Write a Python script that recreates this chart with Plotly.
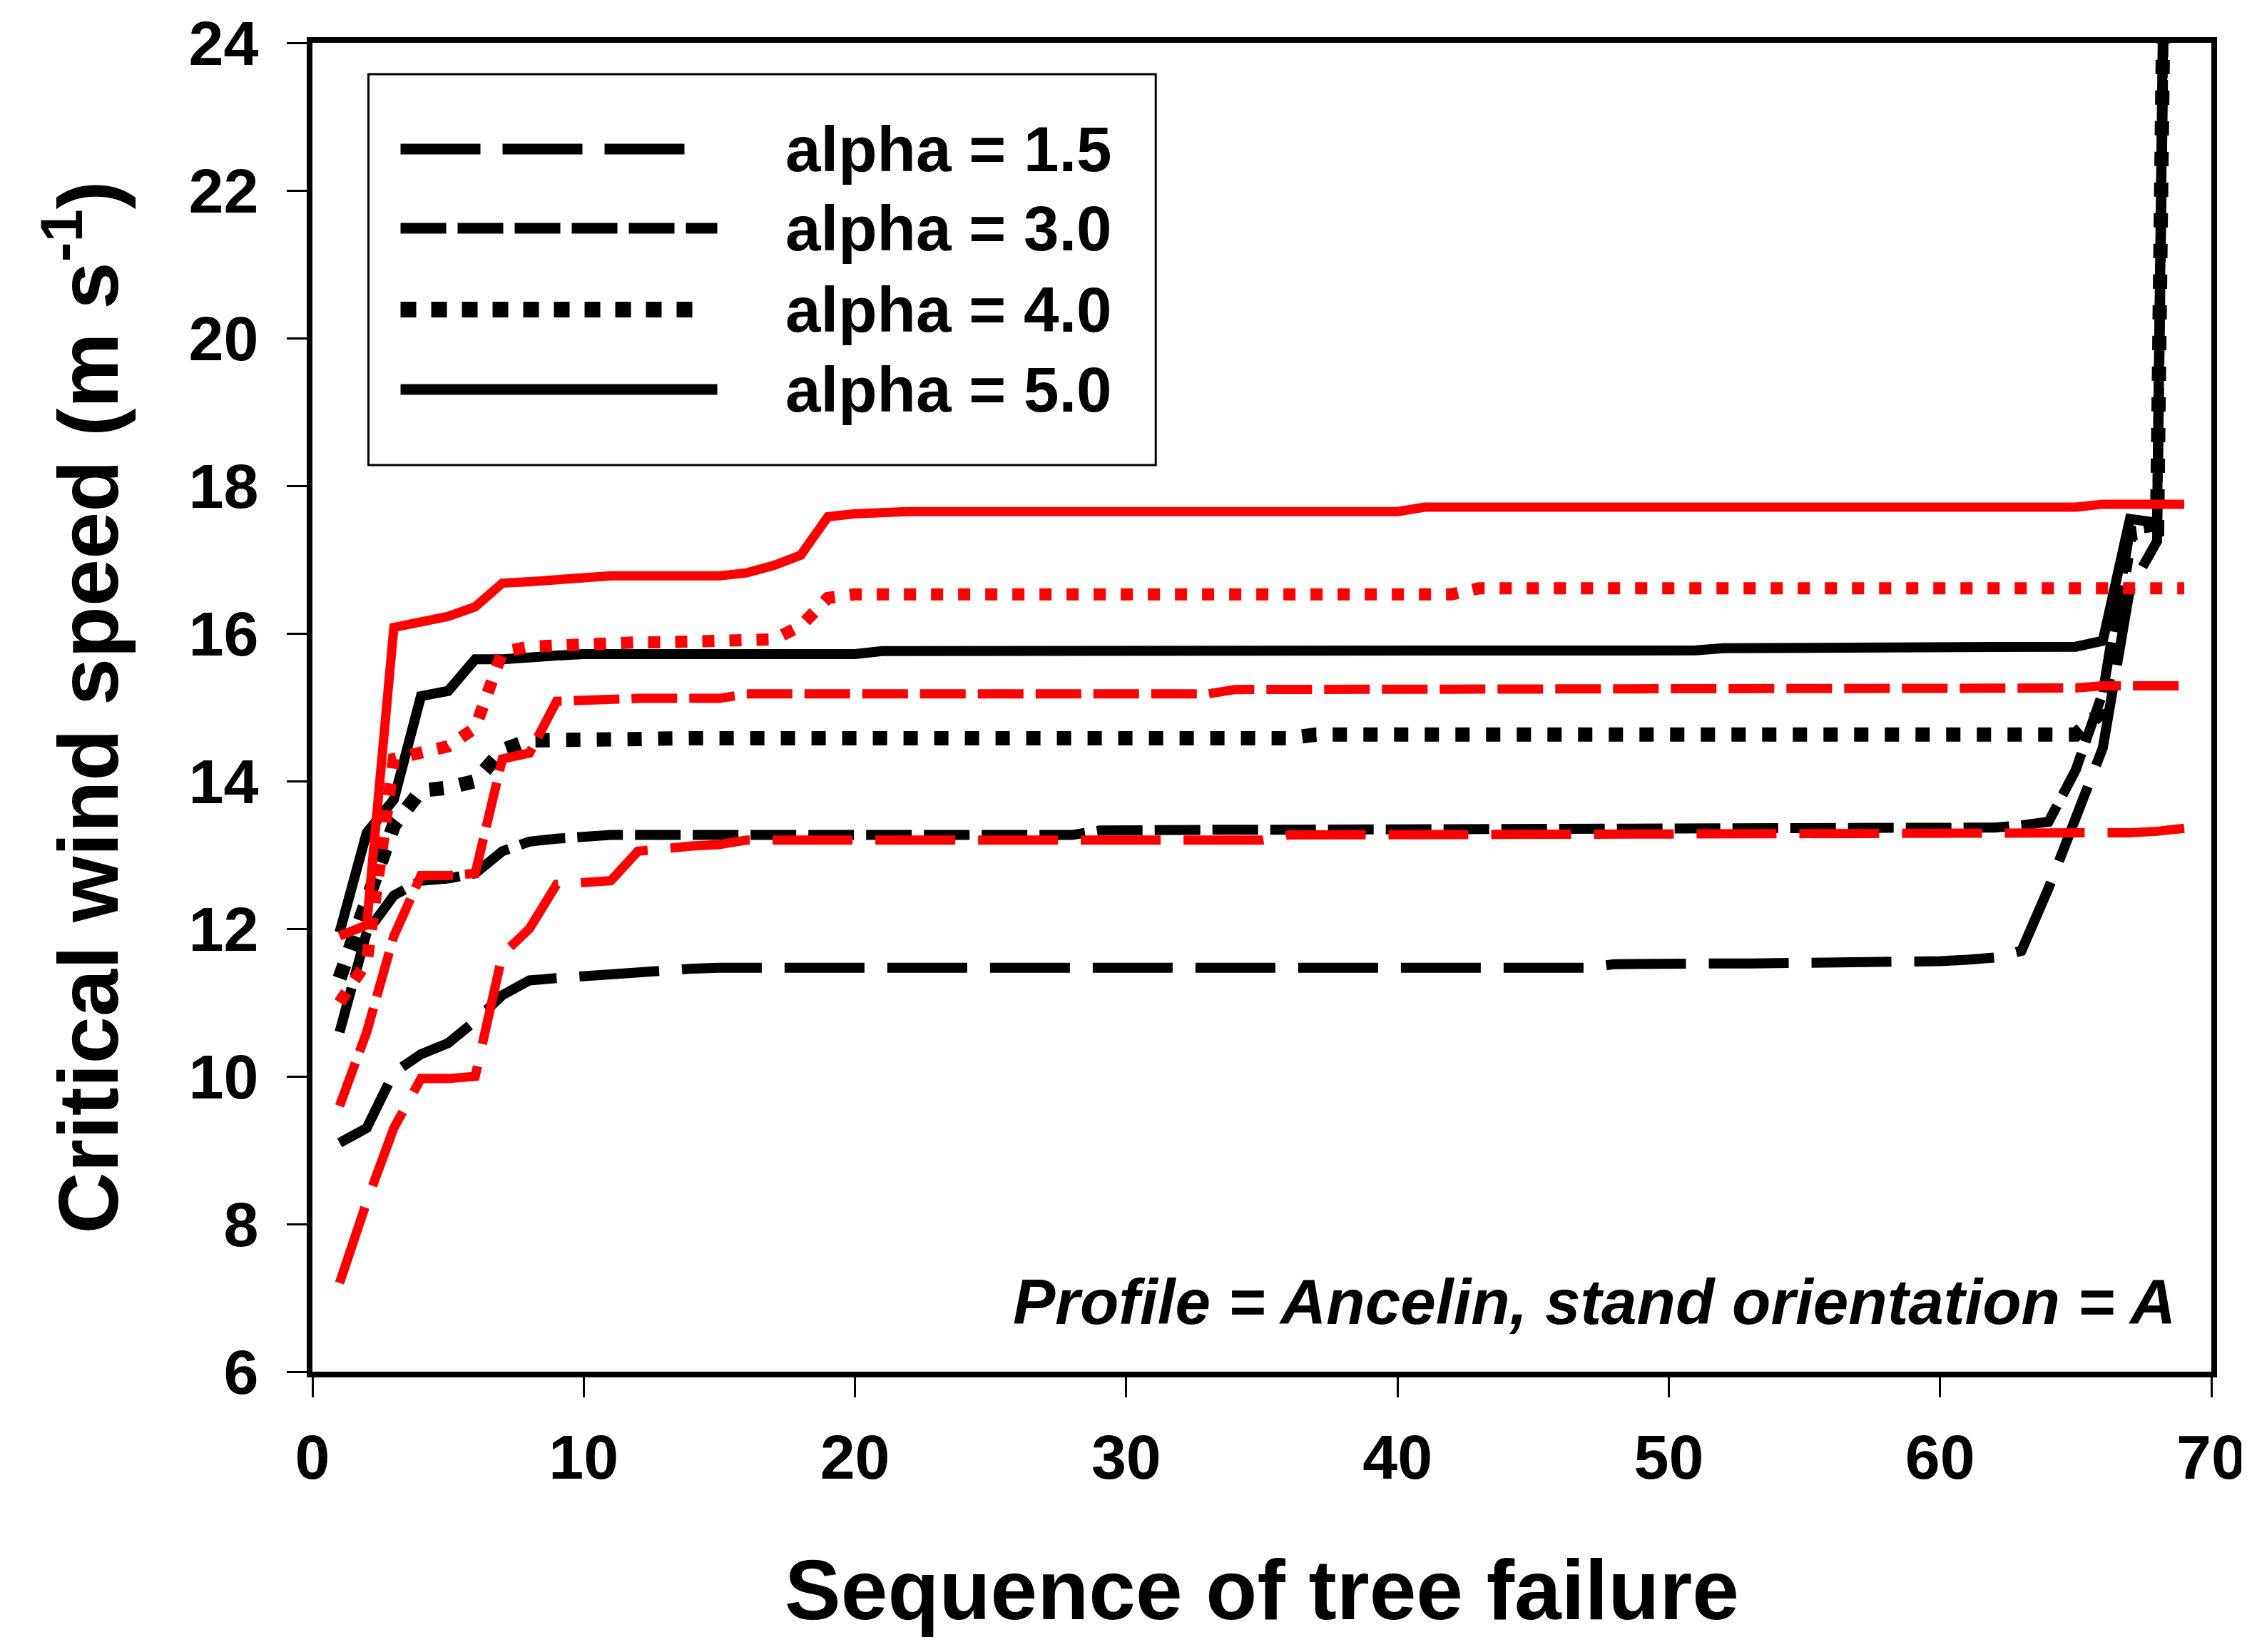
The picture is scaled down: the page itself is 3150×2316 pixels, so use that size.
import plotly.graph_objects as go

# sequence of tree failure (x) and critical wind speeds (y)
seq = [1, 2, 3, 4, 5, 6, 7, 8, 9, 10,
       11, 12, 13, 14, 15, 16, 17, 18, 19, 20,
       21, 22, 23, 24, 25, 26, 27, 28, 29, 30,
       31, 32, 33, 34, 35, 36, 37, 38, 39, 40,
       41, 42, 43, 44, 45, 46, 47, 48, 49, 50,
       51, 52, 53, 54, 55, 56, 57, 58, 59, 60,
       61, 62, 63, 64, 65, 66, 67, 68, 69]

# black curves
black_a15 = [9.10, 9.30, 10.05, 10.30, 10.45, 10.75, 11.10, 11.30, 11.33, 11.36,
             11.40, 11.42, 11.45, 11.46, 11.47, 11.47, 11.47, 11.47, 11.47, 11.47,
             11.47, 11.47, 11.47, 11.47, 11.47, 11.47, 11.47, 11.47, 11.47, 11.47,
             11.47, 11.47, 11.47, 11.47, 11.47, 11.47, 11.47, 11.47, 11.47, 11.47,
             11.47, 11.47, 11.47, 11.47, 11.47, 11.47, 11.47, 11.52, 11.53, 11.53,
             11.53, 11.53, 11.53, 11.53, 11.53, 11.53, 11.53, 11.53, 11.53, 11.56,
             11.58, 11.61, 11.70, 12.55, 13.50, 14.45, 16.60, 17.25, 46.0]
black_a30 = [10.60, 11.95, 12.45, 12.65, 12.68, 12.75, 13.05, 13.18, 13.22, 13.25,
             13.27, 13.27, 13.27, 13.27, 13.27, 13.27, 13.27, 13.27, 13.27, 13.27,
             13.27, 13.27, 13.27, 13.27, 13.27, 13.27, 13.27, 13.27, 13.33, 13.34,
             13.34, 13.34, 13.34, 13.34, 13.34, 13.34, 13.34, 13.34, 13.34, 13.34,
             13.34, 13.34, 13.34, 13.34, 13.34, 13.34, 13.34, 13.34, 13.34, 13.34,
             13.34, 13.34, 13.34, 13.34, 13.34, 13.37, 13.37, 13.37, 13.37, 13.37,
             13.37, 13.37, 13.40, 13.45, 14.15, 15.20, 17.40, 17.45, 47.0]
black_a40 = [11.33, 12.40, 13.40, 13.87, 13.91, 14.00, 14.42, 14.55, 14.56, 14.58,
             14.58, 14.58, 14.58, 14.58, 14.58, 14.58, 14.58, 14.58, 14.58, 14.58,
             14.58, 14.58, 14.58, 14.58, 14.58, 14.58, 14.58, 14.58, 14.58, 14.58,
             14.58, 14.58, 14.58, 14.58, 14.58, 14.58, 14.63, 14.63, 14.63, 14.63,
             14.63, 14.63, 14.63, 14.63, 14.63, 14.63, 14.63, 14.63, 14.63, 14.63,
             14.63, 14.63, 14.63, 14.63, 14.63, 14.63, 14.63, 14.63, 14.63, 14.63,
             14.63, 14.63, 14.63, 14.63, 14.63, 14.95, 17.35, 17.40, 48.0]
black_a50 = [11.95, 13.30, 13.75, 15.15, 15.22, 15.65, 15.65, 15.66, 15.70, 15.72,
             15.72, 15.72, 15.72, 15.72, 15.72, 15.72, 15.72, 15.72, 15.72, 15.72,
             15.76, 15.76, 15.76, 15.76, 15.76, 15.76, 15.76, 15.76, 15.76, 15.76,
             15.76, 15.76, 15.76, 15.76, 15.76, 15.76, 15.76, 15.76, 15.76, 15.76,
             15.76, 15.76, 15.76, 15.76, 15.76, 15.76, 15.76, 15.76, 15.76, 15.76,
             15.77, 15.80, 15.80, 15.80, 15.80, 15.80, 15.80, 15.80, 15.80, 15.80,
             15.80, 15.80, 15.80, 15.80, 15.82, 15.90, 17.55, 17.50, 49.0]

# red curves
red_a15 = [7.20, 8.30, 9.30, 9.97, 9.97, 10.00, 11.65, 12.00, 12.60, 12.62,
           12.65, 13.05, 13.10, 13.12, 13.14, 13.20, 13.20, 13.20, 13.20, 13.20,
           13.20, 13.20, 13.20, 13.20, 13.20, 13.20, 13.20, 13.20, 13.20, 13.20,
           13.20, 13.20, 13.20, 13.20, 13.20, 13.27, 13.27, 13.27, 13.27, 13.27,
           13.27, 13.27, 13.27, 13.27, 13.27, 13.27, 13.27, 13.27, 13.27, 13.27,
           13.27, 13.27, 13.27, 13.27, 13.27, 13.27, 13.27, 13.27, 13.27, 13.27,
           13.27, 13.27, 13.27, 13.27, 13.27, 13.27, 13.30, 13.32, 13.36]
red_a30 = [9.60, 10.60, 11.90, 12.72, 12.72, 12.75, 14.30, 14.38, 15.08, 15.10,
           15.12, 15.12, 15.12, 15.12, 15.12, 15.18, 15.18, 15.18, 15.18, 15.18,
           15.18, 15.18, 15.18, 15.18, 15.18, 15.18, 15.18, 15.18, 15.18, 15.18,
           15.18, 15.18, 15.18, 15.24, 15.24, 15.24, 15.24, 15.24, 15.24, 15.24,
           15.24, 15.24, 15.24, 15.24, 15.24, 15.24, 15.24, 15.24, 15.24, 15.24,
           15.24, 15.24, 15.24, 15.24, 15.24, 15.24, 15.24, 15.24, 15.24, 15.24,
           15.24, 15.24, 15.24, 15.24, 15.26, 15.29, 15.29, 15.29, 15.29]
red_a40 = [11.00, 11.55, 14.30, 14.40, 14.47, 14.72, 15.75, 15.82, 15.84, 15.88,
           15.88, 15.88, 15.88, 15.88, 15.92, 15.92, 15.92, 16.10, 16.48, 16.53,
           16.53, 16.53, 16.53, 16.53, 16.53, 16.53, 16.53, 16.53, 16.53, 16.53,
           16.53, 16.53, 16.53, 16.53, 16.53, 16.53, 16.53, 16.53, 16.53, 16.53,
           16.53, 16.53, 16.61, 16.61, 16.61, 16.61, 16.61, 16.61, 16.61, 16.61,
           16.61, 16.61, 16.61, 16.61, 16.61, 16.61, 16.61, 16.61, 16.61, 16.61,
           16.61, 16.61, 16.61, 16.61, 16.61, 16.61, 16.61, 16.61, 16.61]
red_a50 = [11.90, 12.05, 16.08, 16.14, 16.23, 16.36, 16.68, 16.70, 16.73, 16.76,
           16.78, 16.78, 16.78, 16.78, 16.78, 16.82, 16.92, 17.06, 17.58, 17.62,
           17.65, 17.65, 17.65, 17.65, 17.65, 17.65, 17.65, 17.65, 17.65, 17.65,
           17.65, 17.65, 17.65, 17.65, 17.65, 17.65, 17.65, 17.65, 17.65, 17.65,
           17.71, 17.71, 17.71, 17.71, 17.71, 17.71, 17.71, 17.71, 17.71, 17.71,
           17.71, 17.71, 17.71, 17.71, 17.71, 17.71, 17.71, 17.71, 17.71, 17.71,
           17.71, 17.71, 17.71, 17.71, 17.71, 17.75, 17.75, 17.75, 17.75]

legend_labels = ['alpha = 1.5', 'alpha = 3.0', 'alpha = 4.0', 'alpha = 5.0']
x_ticks = [0, 10, 20, 30, 40, 50, 60, 70]
y_ticks = [6, 8, 10, 12, 14, 16, 18, 20, 22, 24]

FONT = 'Liberation Sans, Arial, sans-serif'
LONG = '112px,32px'
MED = '64px,17px'

# (values, colour, width, dash) - black first so red sits on top
series = [
    (black_a15, 'black', 14, LONG),
    (black_a30, 'black', 14, MED),
    (black_a40, 'black', 20, '20px,23px'),
    (black_a50, 'black', 14, 'solid'),
    (red_a15, 'red', 13, LONG),
    (red_a30, 'red', 13, MED),
    (red_a40, 'red', 17, '17px,21px'),
    (red_a50, 'red', 13, 'solid'),
]

fig = go.Figure()
for vals, col, w, dash in series:
    fig.add_trace(go.Scatter(
        x=seq, y=vals, mode='lines',
        line=dict(color=col, width=w, dash=dash),
        showlegend=False, hoverinfo='skip'
    ))

# hand-drawn legend box (sample lines are much longer than plotly's legend allows)
shapes = [dict(type='rect', xref='paper', yref='paper',
               x0=0.0295, x1=0.4441, y0=0.6822, y1=0.9764,
               line=dict(color='black', width=3), fillcolor='white', layer='above')]
legend_rows = [0.920, 0.8604, 0.7992, 0.7391]
legend_styles = [(0.1959, 15, '112px,31px'), (0.2132, 15, '64px,16px'),
                 (0.2008, 22, '22px,21px'), (0.2132, 15, 'solid')]
annotations = []
for row_y, (x_end, w, dash), label in zip(legend_rows, legend_styles, legend_labels):
    shapes.append(dict(type='line', xref='paper', yref='paper',
                       x0=0.0464, x1=x_end, y0=row_y, y1=row_y,
                       line=dict(color='black', width=w, dash=dash), layer='above'))
    annotations.append(dict(xref='paper', yref='paper', x=0.2484, y=row_y,
                            xanchor='left', yanchor='middle', showarrow=False,
                            text='<b>' + label + '</b>',
                            font=dict(family=FONT, size=89, color='black')))

annotations.append(dict(xref='paper', yref='y', x=0.982, y=6.95,
                        xanchor='right', yanchor='middle', showarrow=False,
                        text='<b><i>Profile = Ancelin, stand orientation = A</i></b>',
                        font=dict(family=FONT, size=89, color='black')))

fig.update_layout(
    width=3150, height=2316,
    margin=dict(l=430, r=58, t=52, b=401),
    paper_bgcolor='white', plot_bgcolor='white',
    showlegend=False,
    shapes=shapes, annotations=annotations,
    font=dict(family=FONT, color='black'),
)

axis_common = dict(
    showgrid=False, zeroline=False,
    showline=True, linewidth=8, linecolor='black', mirror=True,
    ticks='outside', ticklen=28, tickwidth=3, tickcolor='black',
    tickfont=dict(family=FONT, size=88, color='black', weight='bold'),
    automargin=False,
)

fig.update_xaxes(
    range=[0, 70], tickvals=x_ticks, ticklabelstandoff=8,
    title=dict(text='<b>Sequence of tree failure</b>',
               font=dict(family=FONT, size=118, color='black'), standoff=100),
    **axis_common
)
fig.update_yaxes(
    range=[6, 24], tickvals=y_ticks, ticklabelstandoff=22,
    title=dict(text='<b>Critical wind speed (m s<sup>-1</sup>)</b>',
               font=dict(family=FONT, size=119, color='black'), standoff=62),
    **axis_common
)

fig.write_html("out.html")
